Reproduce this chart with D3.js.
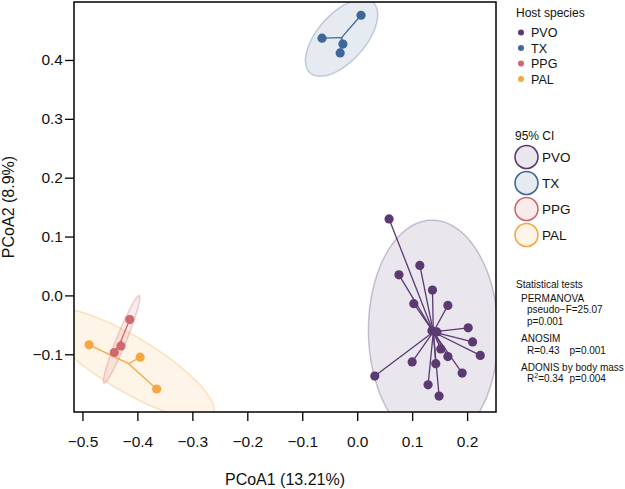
<!DOCTYPE html>
<html><head><meta charset="utf-8">
<script src="https://cdn.jsdelivr.net/npm/d3@7"></script>
<style>body{margin:0;background:#fff}svg{display:block;font-family:"Liberation Sans",Arial,sans-serif}</style>
</head><body><svg id="c" width="625" height="489"></svg>
<script>
const groups = ["PVO","TX","PPG","PAL"];
const colors = ["#5b3a72","#3f679a","#d0676c","#f5a742"];
const pvoX = [0.058,0.076,0.114,0.137,0.103,0.165,0.202,0.210,0.224,0.152,0.165,0.191,0.100,0.143,0.129,0.149,0.032,0.136,0.145];
const pvoY = [0.130,0.035,0.051,0.009,-0.014,-0.017,-0.055,-0.079,-0.102,-0.091,-0.104,-0.132,-0.113,-0.116,-0.152,-0.171,-0.137,-0.060,-0.062];
const txX = [0.007,-0.064,-0.026,-0.031];
const txY = [0.476,0.437,0.427,0.412];
const ppgX = [-0.414,-0.430,-0.442];
const ppgY = [-0.041,-0.086,-0.097];
const palX = [-0.488,-0.395,-0.365];
const palY = [-0.084,-0.105,-0.159];
// 95% CI ellipses: semi-axes (data units) and rotation (degrees)
const ellA = [0.190,0.083,0.081,0.176];
const ellB = [0.118,0.042,0.009,0.047];
const ellAngle = [91,45,66.6,-29];
const xTicks = [-0.5,-0.4,-0.3,-0.2,-0.1,0.0,0.1,0.2];
const yTicks = [-0.1,0.0,0.1,0.2,0.3,0.4];
const statLines = [
  {t:"Statistical tests", lvl:0},
  {t:"PERMANOVA", lvl:1},
  {t:"pseudo\u2212F=25.07", lvl:2},
  {t:"p=0.001", lvl:2},
  {t:"ANOSIM", lvl:1},
  {t:"R=0.43", p:"p=0.001", lvl:2},
  {t:"ADONIS by body mass", lvl:1},
  {t:"R2", p:"p=0.004", lvl:2}
];

const groupX = [pvoX, txX, ppgX, palX];
const groupY = [pvoY, txY, ppgY, palY];

const svg = d3.select("#c");
const L=74, R=496, T=2, B=412;
const x = d3.scaleLinear().domain([-0.5154,0.2526]).range([L,R]);
const y = d3.scaleLinear().domain([-0.1981,0.4985]).range([B,T]);

svg.append("defs").append("clipPath").attr("id","clip")
  .append("rect").attr("x",L).attr("y",T).attr("width",R-L).attr("height",B-T);

const plot = svg.append("g").attr("clip-path","url(#clip)");

// ellipses
groups.forEach((g,i)=>{
  const xs=groupX[i], ys=groupY[i];
  const cx=d3.mean(xs), cy=d3.mean(ys);
  const th=ellAngle[i]*Math.PI/180;
  const pts=d3.range(0,361,3).map(d=>{
    const t=d*Math.PI/180;
    const dx=ellA[i]*Math.cos(t), dy=ellB[i]*Math.sin(t);
    return [x(cx+dx*Math.cos(th)-dy*Math.sin(th)), y(cy+dx*Math.sin(th)+dy*Math.cos(th))];
  });
  plot.append("path").attr("d",d3.line()(pts)+"Z")
    .attr("fill",colors[i]).attr("fill-opacity",0.13)
    .attr("stroke",colors[i]).attr("stroke-opacity",0.3).attr("stroke-width",1.5);
});

// spiders and points
groups.forEach((g,i)=>{
  const xs=groupX[i], ys=groupY[i];
  const cx=d3.mean(xs), cy=d3.mean(ys);
  xs.forEach((v,j)=>{
    plot.append("line").attr("x1",x(cx)).attr("y1",y(cy)).attr("x2",x(v)).attr("y2",y(ys[j]))
      .attr("stroke",colors[i]).attr("stroke-width",1.3);
  });
});
groups.forEach((g,i)=>{
  const xs=groupX[i], ys=groupY[i];
  xs.forEach((v,j)=>{
    plot.append("circle").attr("cx",x(v)).attr("cy",y(ys[j])).attr("r",4.6).attr("fill",colors[i]);
  });
});

// frame
svg.append("rect").attr("x",L).attr("y",T).attr("width",R-L).attr("height",B-T)
  .attr("fill","none").attr("stroke","#000").attr("stroke-width",1.5);

// axes
const fmt = d=>d3.format(".1f")(d).replace("-","\u2212");
const xa = svg.append("g").attr("transform",`translate(0,${B})`)
  .call(d3.axisBottom(x).tickValues(xTicks).tickSize(9).tickPadding(15).tickFormat(fmt));
const ya = svg.append("g").attr("transform",`translate(${L},0)`)
  .call(d3.axisLeft(y).tickValues(yTicks).tickSize(9).tickPadding(2).tickFormat(fmt));
[xa,ya].forEach(a=>{
  a.select(".domain").remove();
  a.selectAll("line").attr("stroke","#000").attr("stroke-width",1.3);
  a.selectAll("text").attr("font-size",15.5).attr("fill","#111").attr("font-family","Liberation Sans, Arial, sans-serif");
});

svg.append("text").attr("x",(L+R)/2).attr("y",485).attr("text-anchor","middle")
  .attr("font-size",16).attr("fill","#111").text("PCoA1 (13.21%)");
svg.append("text").attr("transform",`translate(13.5,${(T+B)/2}) rotate(-90)`).attr("text-anchor","middle")
  .attr("font-size",16).attr("fill","#111").text("PCoA2 (8.9%)");

// legend: host species
const lg = svg.append("g");
lg.append("text").attr("x",516).attr("y",17).attr("font-size",12).attr("fill","#111").text("Host species");
groups.forEach((g,i)=>{
  const yy=32.5+i*15.5;
  lg.append("circle").attr("cx",521).attr("cy",yy).attr("r",3).attr("fill",colors[i]);
  lg.append("text").attr("x",531).attr("y",yy+4.5).attr("font-size",12.5).attr("fill","#111").text(g);
});
lg.append("text").attr("x",515).attr("y",139.5).attr("font-size",12).attr("fill","#111").text("95% CI");
groups.forEach((g,i)=>{
  const yy=157+i*26;
  lg.append("circle").attr("cx",526.5).attr("cy",yy).attr("r",11.5)
    .attr("fill",d3.color(colors[i]).copy({opacity:0.13})).attr("stroke",colors[i]).attr("stroke-width",1.6);
  lg.append("text").attr("x",542).attr("y",yy+5).attr("font-size",13.5).attr("fill","#111").text(g);
});

// statistics
const st = svg.append("g").attr("font-size",10).attr("fill","#111");
const stY = [288,302,313,324.5,342,353.5,370.5,382];
const stX = [516,521,527];
statLines.forEach((s,i)=>{
  if(s.t==="R2"){
    const t=st.append("text").attr("x",stX[s.lvl]).attr("y",stY[i]);
    t.append("tspan").text("R");
    t.append("tspan").attr("dy",-4).attr("font-size",7).text("2");
    t.append("tspan").attr("dy",4).text("=0.34");
  } else {
    st.append("text").attr("x",stX[s.lvl]).attr("y",stY[i]).text(s.t);
  }
  if(s.p){
    st.append("text").attr("x",569.5).attr("y",stY[i]).text(s.p);
  }
});
</script></body></html>
